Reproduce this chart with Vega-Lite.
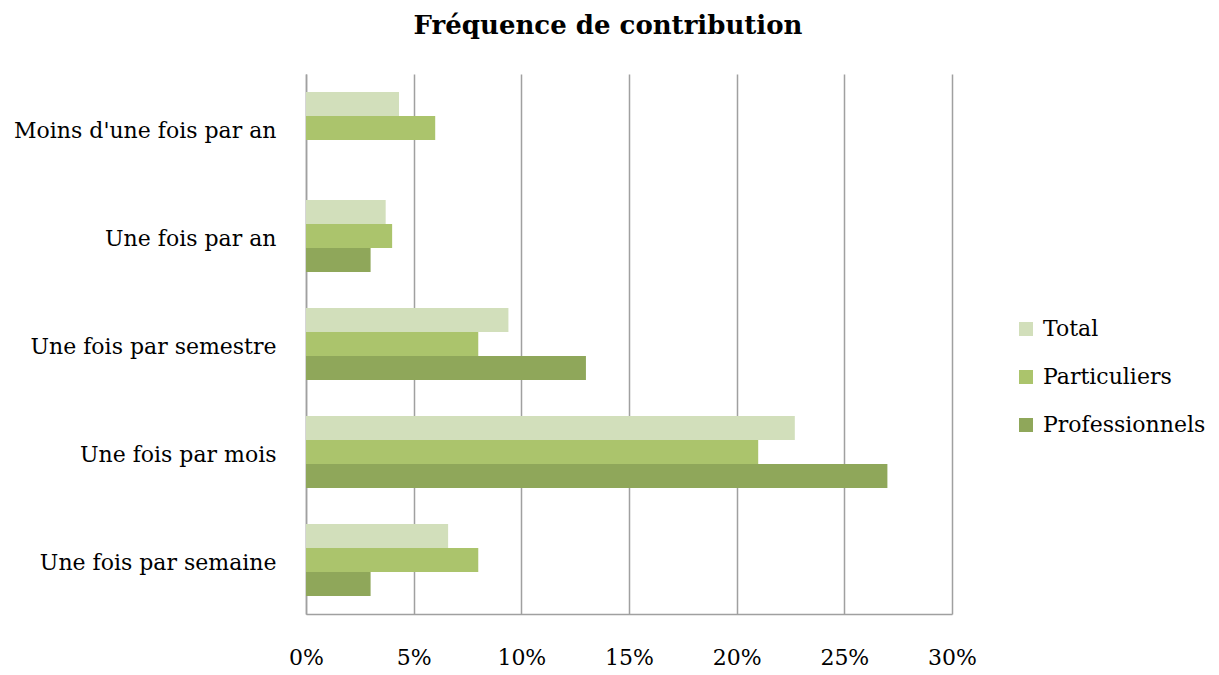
{
  "$schema": "https://vega.github.io/schema/vega-lite/v6.json",
  "width": 646,
  "height": 540,
  "autosize": {"type": "none"},
  "padding": {"left": 306, "top": 74, "right": 267, "bottom": 61},
  "background": "white",
  "config": {"view": {"stroke": null}, "font": "DejaVu Serif"},
  "title": {"text": "Fréquence de contribution", "font": "DejaVu Serif", "fontSize": 26, "fontWeight": "bold", "color": "#000000", "anchor": "middle", "dx": -21, "offset": 35},
  "data": {"values": [
    {"freq": "Moins d'une fois par an", "serie": "Total", "valeur": 0.0432},
    {"freq": "Moins d'une fois par an", "serie": "Particuliers", "valeur": 0.06},
    {"freq": "Moins d'une fois par an", "serie": "Professionnels", "valeur": 0},
    {"freq": "Une fois par an", "serie": "Total", "valeur": 0.037},
    {"freq": "Une fois par an", "serie": "Particuliers", "valeur": 0.04},
    {"freq": "Une fois par an", "serie": "Professionnels", "valeur": 0.03},
    {"freq": "Une fois par semestre", "serie": "Total", "valeur": 0.094},
    {"freq": "Une fois par semestre", "serie": "Particuliers", "valeur": 0.08},
    {"freq": "Une fois par semestre", "serie": "Professionnels", "valeur": 0.13},
    {"freq": "Une fois par mois", "serie": "Total", "valeur": 0.227},
    {"freq": "Une fois par mois", "serie": "Particuliers", "valeur": 0.21},
    {"freq": "Une fois par mois", "serie": "Professionnels", "valeur": 0.27},
    {"freq": "Une fois par semaine", "serie": "Total", "valeur": 0.066},
    {"freq": "Une fois par semaine", "serie": "Particuliers", "valeur": 0.08},
    {"freq": "Une fois par semaine", "serie": "Professionnels", "valeur": 0.03}
  ]},
  "mark": {"type": "bar"},
  "encoding": {
    "y": {
      "field": "freq", "type": "nominal",
      "sort": ["Moins d'une fois par an", "Une fois par an", "Une fois par semestre", "Une fois par mois", "Une fois par semaine"],
      "scale": {"paddingInner": 0.3333, "paddingOuter": 0.1667},
      "axis": {"title": null, "ticks": false, "domain": true, "domainColor": "#a0a0a0", "domainWidth": 1.5, "labelFontSize": 22, "labelColor": "#000000", "labelPadding": 30, "labelOffset": 3, "labelFont": "DejaVu Serif", "labelLimit": 400}
    },
    "yOffset": {"field": "serie", "type": "nominal", "sort": ["Total", "Particuliers", "Professionnels"]},
    "x": {
      "field": "valeur", "type": "quantitative",
      "scale": {"domain": [0, 0.3], "nice": false},
      "axis": {"title": null, "format": ".0%", "values": [0, 0.05, 0.1, 0.15, 0.2, 0.25, 0.3], "grid": true, "gridColor": "#a0a0a0", "gridWidth": 1.5, "domainColor": "#a0a0a0", "domainWidth": 1.5, "ticks": false, "labelFlush": false, "labelFontSize": 22, "labelColor": "#000000", "labelPadding": 33, "labelFont": "DejaVu Serif"}
    },
    "color": {
      "field": "serie", "type": "nominal",
      "scale": {"domain": ["Total", "Particuliers", "Professionnels"], "range": ["#d2dfbb", "#abc46c", "#8fa75a"]},
      "legend": {"title": null, "orient": "none", "legendX": 709, "legendY": 244, "symbolType": "square", "symbolSize": 196, "symbolStrokeWidth": 0, "labelFontSize": 22, "labelColor": "#000000", "labelFont": "DejaVu Serif", "rowPadding": 26, "labelOffset": 6, "labelLimit": 300}
    }
  }
}
